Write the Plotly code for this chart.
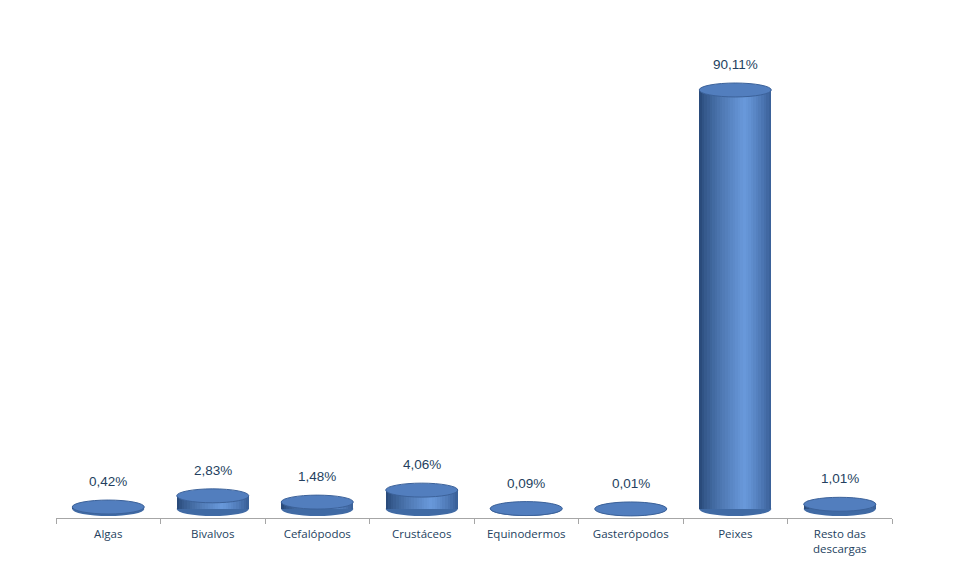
import plotly.graph_objects as go

categories = ["Algas", "Bivalvos", "Cefalópodos", "Crustáceos", "Equinodermos",
              "Gasterópodos", "Peixes", "Resto das<br>descargas"]
values = [0.42, 2.83, 1.48, 4.06, 0.09, 0.01, 90.11, 1.01]
labels = ["0,42%", "2,83%", "1,48%", "4,06%", "0,09%", "0,01%", "90,11%", "1,01%"]

W = 0.69          # cylinder width (category units)
RY = 1.5          # ellipse half-height (data units)
N = 28            # gradient strips

def lerp(c1, c2, t):
    return tuple(int(round(a + (b - a) * t)) for a, b in zip(c1, c2))

dark = (36, 68, 114)
light = (104, 152, 218)
edge = (56, 94, 150)

def grad(t):
    if t < 0.62:
        c = lerp(dark, light, (t / 0.62) ** 0.7)
    else:
        c = lerp(light, edge, ((t - 0.62) / 0.38) ** 1.3)
    return "rgb(%d,%d,%d)" % c

fig = go.Figure()
for i in range(N):
    fig.add_trace(go.Bar(
        x=categories, y=values, width=W / N, offset=-W / 2 + i * W / N,
        marker=dict(color=grad((i + 0.5) / N), line=dict(width=0)),
        showlegend=False, hoverinfo="skip"))

shapes = []
for i, v in enumerate(values):
    shapes.append(dict(type="circle", xref="x", yref="y", layer="below",
                       x0=i - W / 2, x1=i + W / 2, y0=-RY, y1=RY,
                       fillcolor="rgb(64,106,164)", line=dict(width=0)))
    shapes.append(dict(type="circle", xref="x", yref="y", layer="above",
                       x0=i - W / 2, x1=i + W / 2, y0=v - RY, y1=v + RY,
                       fillcolor="rgb(82,126,190)",
                       line=dict(width=1, color="rgb(60,98,154)")))

annotations = []
for i, (v, t) in enumerate(zip(values, labels)):
    annotations.append(dict(x=categories[i], y=v + RY, text=t, showarrow=False,
                            yanchor="bottom", yshift=9, xref="x", yref="y",
                            font=dict(size=13.5, color="#243f60",
                                      family="Liberation Sans, Arial")))

fig.update_layout(
    width=956, height=574,
    margin=dict(l=48, r=72, t=36, b=64),
    paper_bgcolor="white", plot_bgcolor="white",
    barmode="overlay", bargap=0,
    shapes=shapes, annotations=annotations,
    xaxis=dict(type="category", showline=True, linecolor="#a6a6a6", linewidth=1,
               ticks="outside", tickson="boundaries", ticklen=5, tickcolor="#a6a6a6",
               ticklabelstandoff=5,
               tickfont=dict(size=11.5, color="#243f60", family="Open Sans, Liberation Sans"),
               showgrid=False, zeroline=False, range=[-0.5, 7.5]),
    yaxis=dict(range=[-1.94, 100], visible=False, showgrid=False, zeroline=False),
)

fig.write_html("out.html")
